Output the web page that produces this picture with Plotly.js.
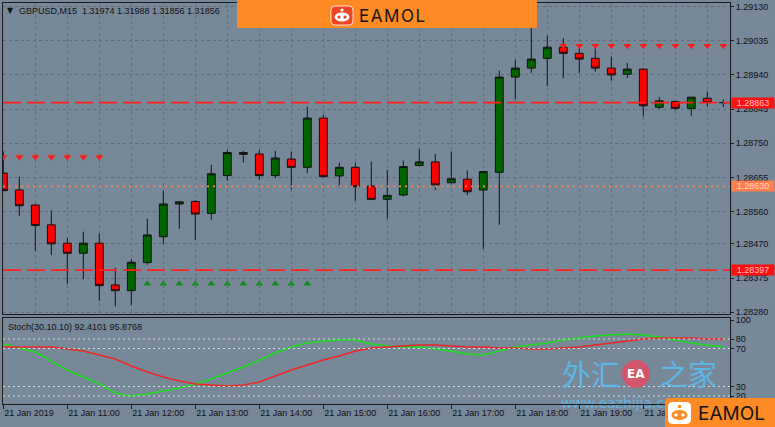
<!DOCTYPE html>
<html><head><meta charset="utf-8">
<script src="https://cdn.plot.ly/plotly-3.0.1.min.js"></script>
<style>html,body{margin:0;padding:0;background:#778899;}#chart{width:775px;height:427px;}</style>
</head><body><div id="chart"></div>
<script>
const times = ['10:00','10:15','10:30','10:45','11:00','11:15','11:30','11:45','12:00','12:15','12:30','12:45',
  '13:00','13:15','13:30','13:45','14:00','14:15','14:30','14:45','15:00','15:15','15:30','15:45',
  '16:00','16:15','16:30','16:45','17:00','17:15','17:30','17:45','18:00','18:15','18:30','18:45',
  '19:00','19:15','19:30','19:45','20:00','20:15','20:30','20:45','21:00','21:15'];
const openP = [1.28667,1.28620,1.28578,1.28523,1.28472,1.28444,1.28472,1.28356,1.28340,1.28418,
  1.28490,1.28581,1.28588,1.28555,1.28660,1.28719,1.28720,1.28660,1.28706,1.28683,
  1.28820,1.28659,1.28683,1.28631,1.28594,1.28606,1.28688,1.28698,1.28640,1.28650,
  1.28620,1.28669,1.28934,1.28959,1.28986,1.29017,1.29000,1.28986,1.28959,1.28942,
  1.28956,1.28850,1.28866,1.28847,1.28875,1.28863];
const highP = [1.28727,1.28657,1.28581,1.28563,1.28487,1.28504,1.28498,1.28404,1.28428,1.28540,
  1.28618,1.28588,1.28592,1.28690,1.28731,1.28729,1.28731,1.28729,1.28727,1.28852,
  1.28829,1.28696,1.28696,1.28699,1.28676,1.28702,1.28734,1.28720,1.28727,1.28674,
  1.28673,1.28952,1.28982,1.29070,1.29049,1.29042,1.29014,1.29014,1.28991,1.28973,
  1.28958,1.28878,1.28868,1.28878,1.28894,1.28872];
const lowP = [1.28617,1.28548,1.28451,1.28439,1.28359,1.28372,1.28312,1.28296,1.28300,1.28412,
  1.28470,1.28512,1.28481,1.28537,1.28646,1.28696,1.28648,1.28653,1.28622,1.28667,
  1.28655,1.28627,1.28590,1.28592,1.28540,1.28602,1.28686,1.28620,1.28638,1.28606,
  1.28456,1.28523,1.28873,1.28946,1.28909,1.28931,1.28945,1.28949,1.28924,1.28931,
  1.28824,1.28845,1.28841,1.28826,1.28852,1.28850];
const closeP = [1.28618,1.28576,1.28521,1.28470,1.28444,1.28472,1.28354,1.28340,1.28419,1.28495,
  1.28581,1.28587,1.28553,1.28665,1.28724,1.28724,1.28660,1.28709,1.28683,1.28820,
  1.28657,1.28683,1.28629,1.28594,1.28605,1.28685,1.28698,1.28634,1.28651,1.28615,
  1.28671,1.28934,1.28959,1.28984,1.29017,1.29000,1.28984,1.28959,1.28940,1.28956,
  1.28854,1.28868,1.28847,1.28878,1.28863,1.28863];
const stochMain = [74.7,70.5,66.3,56.8,47.4,40,32.6,23.2,20,22.1,25.3,28.4,32.6,37.9,44.2,50.5,57.9,65.3,
  71.6,75.8,77.9,78.9,78.9,74.7,72.6,71.6,71.6,69.5,67.4,64.2,63.2,67.4,71.6,73.7,75.8,78.9,81,83.2,
  84.2,85.3,84.2,82.1,78.9,75.8,73.7,71.6];
const stochSignal = [71.6,71.6,71.6,71.6,69.5,67.4,63.2,58.9,51.6,45.3,40,35.8,32.6,31.6,30.5,31.6,34.7,41,
  47.4,52.6,57.9,62.1,67.4,70.5,71.6,72.6,73.7,73.7,72.6,71.6,71.6,70.5,70.5,69.5,69.5,70.5,71.6,73.7,
  75.8,77.9,80,81,81,81,80,80];
const priceTicks = [1.29130,1.29035,1.28940,1.28845,1.28750,1.28655,1.28560,1.28470,1.28375,1.28280];
const priceTickText = ['1.29130','1.29035','1.28940','1.28845','1.28750','1.28655','1.28560','1.28470','1.28375','1.28280'];
const timeTickText = ['21 Jan 2019','21 Jan 11:00','21 Jan 12:00','21 Jan 13:00','21 Jan 14:00','21 Jan 15:00',
  '21 Jan 16:00','21 Jan 17:00','21 Jan 18:00','21 Jan 19:00','21 Jan 20:00'];
const levelPrices = [1.28863, 1.28630, 1.28397];
const levelText = ['1.28863','1.28630','1.28397'];
const stochLevels = [80, 70, 30, 20];
const stochTicks = [100, 80, 70, 30, 20];
const stochTickText = ['100','80','70','30','20'];
const downSignalTimes = ['10:00','10:15','10:30','10:45','11:00','11:15','11:30',
  '18:45','19:00','19:15','19:30','19:45','20:00','20:15','20:30','20:45','21:00','21:15'];
const downSignalPrice = [1.28712,1.28712,1.28712,1.28712,1.28712,1.28712,1.28712,
  1.29021,1.29021,1.29021,1.29021,1.29021,1.29021,1.29021,1.29021,1.29021,1.29021,1.29021];
const upSignalTimes = ['12:15','12:30','12:45','13:00','13:15','13:30','13:45','14:00','14:15','14:30','14:45'];
const upSignalPrice = [1.28359,1.28359,1.28359,1.28359,1.28359,1.28359,1.28359,1.28359,1.28359,1.28359,1.28359];
const headerText = 'GBPUSD,M15  1.31974 1.31988 1.31856 1.31856';
const stochText = 'Stoch(30.10.10) 92.4101 95.8768';

const W = 775, H = 427, ML = 3, MR = 45, MT = 3, MB = 23;
const PW = W - ML - MR, PH = H - MT - MB;
const px = x => (x - ML) / PW;
const py = y => (H - MB - y) / PH;
const idx = t => times.indexOf(t);
const xs = times.map((t, i) => i);
const timeTickIdx = times.map((t, i) => i).filter(i => times[i].endsWith(':00'));
const gridIdx = xs.filter(i => i % 2 === 0);

const FONT = 'Liberation Sans, Arial, sans-serif';
const AXC = '#1b1b1b';
const GRID = '#616d7b';
const ORANGE = '#fd8a22';

function rr(x0, y0, x1, y1, r) {
  const P = (x, y) => px(x) + ',' + py(y);
  return 'M' + P(x0 + r, y0) + ' L' + P(x1 - r, y0) + ' Q' + P(x1, y0) + ' ' + P(x1, y0 + r) +
    ' L' + P(x1, y1 - r) + ' Q' + P(x1, y1) + ' ' + P(x1 - r, y1) +
    ' L' + P(x0 + r, y1) + ' Q' + P(x0, y1) + ' ' + P(x0, y1 - r) +
    ' L' + P(x0, y0 + r) + ' Q' + P(x0, y0) + ' ' + P(x0 + r, y0) + ' Z';
}
function circ(cx, cy, rx, ry, fill) {
  return {type: 'circle', xref: 'paper', yref: 'paper', layer: 'above',
    x0: px(cx - rx), x1: px(cx + rx), y0: py(cy + ry), y1: py(cy - ry),
    fillcolor: fill, line: {width: 0}};
}

const traces = [
  {type: 'candlestick', x: xs, open: openP, high: highP, low: lowP, close: closeP,
    xaxis: 'x', yaxis: 'y', hoverinfo: 'none', whiskerwidth: 0,
    increasing: {fillcolor: '#006400', line: {color: '#121212', width: 1}},
    decreasing: {fillcolor: '#ff0000', line: {color: '#121212', width: 1}}},
  {type: 'scatter', mode: 'markers', x: downSignalTimes.map(idx), y: downSignalPrice, xaxis: 'x', yaxis: 'y',
    marker: {symbol: 'triangle-down', size: 7, color: '#ff1c1c', line: {width: 0}}, hoverinfo: 'none'},
  {type: 'scatter', mode: 'markers', x: upSignalTimes.map(idx), y: upSignalPrice, xaxis: 'x', yaxis: 'y',
    marker: {symbol: 'triangle-up', size: 7, color: '#1f8a2a', line: {width: 0}}, hoverinfo: 'none'},
  {type: 'scatter', mode: 'lines', x: xs, y: stochMain, xaxis: 'x2', yaxis: 'y2',
    line: {color: '#19e019', width: 1.5}, hoverinfo: 'none'},
  {type: 'scatter', mode: 'lines', x: xs, y: stochSignal, xaxis: 'x2', yaxis: 'y2',
    line: {color: '#f02424', width: 1.5}, hoverinfo: 'none'},
  {type: 'scatter', mode: 'text', x: [34.85], y: [11.6], xaxis: 'x2', yaxis: 'y2', cliponaxis: false,
    text: ['www.eazhijia.com'], textposition: 'middle right',
    textfont: {family: 'DejaVu Sans, sans-serif', size: 14, color: 'rgba(95,190,240,0.85)'}, hoverinfo: 'none'}
];

const shapes = [];
const levelColors = ['#ff1e1e', '#ff7f50', '#ff1e1e'];
const levelDash = ['18px,6px', '2px,4px', '18px,6px'];
levelPrices.forEach((p, i) => shapes.push({type: 'line', xref: 'x domain', yref: 'y', x0: 0, x1: 1, y0: p, y1: p,
  line: {color: levelColors[i], width: 1.6, dash: levelDash[i]}}));
stochLevels.forEach(v => shapes.push({type: 'line', xref: 'x2 domain', yref: 'y2', x0: 0, x1: 1, y0: v, y1: v,
  line: {color: '#d9dee4', width: 1.2, dash: '2px,3px'}}));
// top banner
shapes.push({type: 'rect', xref: 'paper', yref: 'paper', layer: 'above', x0: px(237), x1: px(537), y0: py(28), y1: py(0),
  fillcolor: ORANGE, line: {width: 0}});
shapes.push({type: 'path', xref: 'paper', yref: 'paper', layer: 'above', path: rr(331, 6, 353, 25, 4),
  fillcolor: '#ef4423', line: {color: '#ffffff', width: 0.8}});
shapes.push(circ(342, 17, 7.5, 4.5, '#ffffff'));
shapes.push(circ(339, 17, 1.6, 1.6, '#ef4423'));
shapes.push(circ(345, 17, 1.6, 1.6, '#ef4423'));
shapes.push(circ(342, 10, 1.6, 1.6, '#ffffff'));
// watermark EA circle
shapes.push(circ(636, 374, 14, 14, 'rgba(222,78,100,0.88)'));
// bottom-right box
shapes.push({type: 'path', xref: 'paper', yref: 'paper', layer: 'above', path: rr(665, 398, 780, 432, 4),
  fillcolor: ORANGE, line: {width: 0}});
shapes.push({type: 'path', xref: 'paper', yref: 'paper', layer: 'above', path: rr(668, 402, 691, 424, 5),
  fillcolor: '#ffffff', line: {width: 0}});
shapes.push(circ(679.5, 415, 8, 5, ORANGE));
shapes.push(circ(676, 415, 1.8, 1.8, '#ffffff'));
shapes.push(circ(683, 415, 1.8, 1.8, '#ffffff'));
shapes.push(circ(679.5, 406.5, 1.8, 1.8, ORANGE));

const annotations = [
  {xref: 'paper', yref: 'paper', x: px(5), y: py(11), xanchor: 'left', yanchor: 'middle', showarrow: false,
    text: '▼', font: {family: 'DejaVu Sans', size: 8, color: '#111'}},
  {xref: 'paper', yref: 'paper', x: px(17), y: py(11), xanchor: 'left', yanchor: 'middle', showarrow: false,
    text: headerText, font: {family: FONT, size: 9, color: '#111'}},
  {xref: 'paper', yref: 'paper', x: px(6), y: py(327), xanchor: 'left', yanchor: 'middle', showarrow: false,
    text: stochText, font: {family: FONT, size: 9, color: '#111'}},
  {xref: 'paper', yref: 'paper', x: px(591), y: py(373), xanchor: 'center', yanchor: 'middle', showarrow: false,
    text: '外汇', font: {family: 'Noto Sans CJK SC', size: 29, color: 'rgba(90,190,242,0.88)'}},
  {xref: 'paper', yref: 'paper', x: px(688), y: py(373), xanchor: 'center', yanchor: 'middle', showarrow: false,
    text: '之家', font: {family: 'Noto Sans CJK SC', size: 29, color: 'rgba(90,190,242,0.88)'}},
  {xref: 'paper', yref: 'paper', x: px(636), y: py(374), xanchor: 'center', yanchor: 'middle', showarrow: false,
    text: '<b>EA</b>', font: {family: 'DejaVu Sans', size: 12, color: '#ffffff'}},
  {xref: 'paper', yref: 'paper', x: px(357), y: py(16), xanchor: 'left', yanchor: 'middle', showarrow: false,
    text: 'E\u200AA\u200AM\u200AO\u200AL', font: {family: 'Inter', size: 17, color: '#151515'}},
  {xref: 'paper', yref: 'paper', x: px(696), y: py(413), xanchor: 'left', yanchor: 'middle', showarrow: false,
    text: 'EAMOL', font: {family: 'Inter', size: 19, color: '#151515'}}
];
const boxColors = ['#ff1010', '#ff7f50', '#ff1010'];
const boxText = ['#ffc4c4', '#ffd2bd', '#ffc4c4'];
levelPrices.forEach((p, i) => annotations.push({xref: 'paper', yref: 'y', x: px(731), y: p, xanchor: 'left',
  yanchor: 'middle', showarrow: false, text: levelText[i], bgcolor: boxColors[i], width: 42, height: 10,
  borderpad: 0, align: 'center', font: {family: FONT, size: 9, color: boxText[i]}}));

const layout = {
  width: W, height: H, margin: {l: ML, r: MR, t: MT, b: MB, pad: 0},
  paper_bgcolor: '#778899', plot_bgcolor: '#778899', showlegend: false,
  xaxis: {domain: [0, 1], anchor: 'y', range: [-0.02, 45.42], tickvals: gridIdx, showticklabels: false, ticks: '',
    showgrid: true, gridcolor: GRID, griddash: 'dot', gridwidth: 1, zeroline: false,
    showline: true, mirror: true, linecolor: AXC, linewidth: 1, rangeslider: {visible: false}, fixedrange: true},
  yaxis: {domain: [py(314), 1], anchor: 'x', side: 'right', range: [1.28275, 1.29140],
    tickvals: priceTicks, ticktext: priceTickText, ticks: 'outside', ticklen: 3, tickcolor: AXC,
    tickfont: {family: FONT, size: 9, color: '#111'}, showgrid: true, gridcolor: GRID, griddash: 'dot',
    zeroline: false, showline: true, mirror: true, linecolor: AXC, linewidth: 1, fixedrange: true},
  xaxis2: {domain: [0, 1], anchor: 'y2', range: [-0.02, 45.42], tickvals: timeTickIdx, ticktext: timeTickText,
    ticks: 'outside', ticklen: 4, tickcolor: AXC, ticklabelposition: 'outside right',
    tickfont: {family: FONT, size: 9, color: '#111'}, showgrid: false, zeroline: false,
    showline: true, mirror: true, linecolor: AXC, linewidth: 1, fixedrange: true},
  yaxis2: {domain: [0, py(318)], anchor: 'x2', side: 'right', range: [11.6, 102.1],
    tickvals: stochTicks, ticktext: stochTickText, ticks: 'outside', ticklen: 3, tickcolor: AXC,
    tickfont: {family: FONT, size: 9, color: '#111'}, showgrid: false, zeroline: false,
    showline: true, mirror: true, linecolor: AXC, linewidth: 1, fixedrange: true},
  shapes: shapes, annotations: annotations
};
Plotly.newPlot('chart', traces, layout, {displayModeBar: false, staticPlot: true});
</script>
</body></html>
